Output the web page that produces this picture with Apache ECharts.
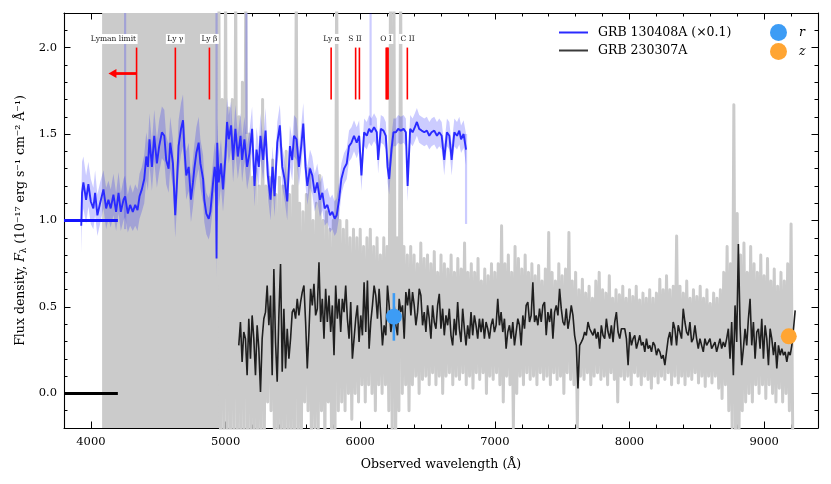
<!DOCTYPE html>
<html><head><meta charset="utf-8">
<script src="https://cdn.jsdelivr.net/npm/echarts@6/dist/echarts.min.js"></script>
<style>html,body{margin:0;padding:0;background:#fff}#c{width:831px;height:484px}</style>
</head><body><div id="c"></div>
<script>
// ---------- axis ranges & ticks ----------
const xMin = 3800, xMax = 9400, yMin = -0.2, yMax = 2.2;
const xMajorTicks = [4000,5000,6000,7000,8000,9000];
const xMinorTicks = [3800,4000,4200,4400,4600,4800,5000,5200,5400,5600,5800,6000,6200,6400,6600,6800,7000,7200,7400,7600,7800,8000,8200,8400,8600,8800,9000,9200,9400];
const yMajorTicks = [0,0.5,1,1.5,2];
const yMinorTicks = [-0.2,-0.1,0,0.1,0.2,0.3,0.4,0.5,0.6,0.7,0.8,0.9,1,1.1,1.2,1.3,1.4,1.5,1.6,1.7,1.8,1.9,2,2.1,2.2];

// ---------- GRB 130408A (x0.1) ----------
const blueWave = [3928,3934,3944,3964,3981,3999,4018,4031,4048,4068,
4093,4113,4130,4147,4167,4187,4205,4222,4242,4254,
4274,4291,4311,4329,4346,4361,4378,4396,4411,4423,
4435,4453,4470,4490,4507,4527,4545,4559,4577,4589,
4609,4626,4639,4651,4669,4684,4693,4708,4726,4743,
4758,4768,4783,4800,4813,4833,4842,4857,4875,4887,
4905,4919,4928,4933,4938,4949,4966,4981,4999,5011,
5024,5041,5056,5073,5091,5111,5123,5140,5160,5178,
5197,5215,5230,5247,5259,5279,5297,5314,5334,5349,
5364,5384,5403,5421,5438,5458,5478,5495,5508,5527,
5545,5562,5577,5594,5607,5627,5644,5662,5681,5701,
5719,5736,5756,5776,5793,5810,5825,5843,5860,5880,
5900,5917,5935,5954,5974,5992,6009,6029,6049,6066,
6083,6103,6123,6133,6153,6173,6190,6203,6215,6232,
6247,6265,6282,6302,6322,6339,6352,6371,6389,6406,
6421,6438,6456,6476,6495,6513,6530,6550,6570,6587,
6605,6624,6644,6662,6679,6699,6719,6736,6749,6768,
6786];
const blueFlux = [0.97,1.16,1.22,1.12,1.21,1.11,1.07,1.16,1.03,1.10,
1.18,1.07,1.12,1.07,1.15,1.05,1.16,1.05,1.12,1.14,
1.04,1.09,1.05,1.09,1.06,1.14,1.18,1.24,1.37,1.31,
1.47,1.31,1.49,1.33,1.43,1.51,1.49,1.35,1.30,1.45,
1.33,1.03,1.22,1.43,1.53,1.58,1.43,1.26,1.31,1.12,
1.22,1.30,1.39,1.45,1.33,1.24,1.12,1.04,1.01,1.05,
1.20,1.31,1.25,0.78,1.45,1.22,1.33,1.18,1.37,1.57,
1.47,1.55,1.35,1.53,1.37,1.49,1.35,1.47,1.31,1.39,
1.53,1.20,1.41,1.31,1.49,1.35,1.52,1.26,1.12,1.31,
1.14,1.45,1.55,1.31,1.24,1.11,1.43,1.35,1.49,1.47,
1.31,1.43,1.56,1.31,1.20,1.30,1.26,1.16,1.22,1.12,
1.16,1.07,1.09,1.03,1.05,1.01,1.03,1.12,1.24,1.30,
1.33,1.43,1.45,1.49,1.45,1.49,1.26,1.51,1.49,1.53,
1.51,1.54,1.51,1.35,1.53,1.52,1.49,1.31,1.24,1.41,
1.51,1.51,1.53,1.52,1.53,1.51,1.20,1.53,1.51,1.54,
1.57,1.53,1.52,1.51,1.52,1.49,1.51,1.52,1.49,1.51,
1.49,1.35,1.51,1.49,1.35,1.51,1.49,1.52,1.47,1.50,
1.41];
const blueErr = [0.16,0.18,0.15,0.14,0.13,0.13,0.12,0.13,0.12,0.12,
0.11,0.12,0.11,0.11,0.12,0.11,0.12,0.11,0.12,0.12,
0.11,0.12,0.11,0.12,0.12,0.13,0.13,0.14,0.14,0.14,
0.15,0.14,0.15,0.14,0.15,0.15,0.15,0.14,0.14,0.15,
0.14,0.13,0.14,0.15,0.15,0.15,0.14,0.14,0.14,0.13,
0.14,0.14,0.15,0.15,0.14,0.14,0.13,0.12,0.12,0.12,
0.13,0.14,0.14,0.12,0.14,0.14,0.14,0.13,0.14,0.14,
0.14,0.14,0.13,0.14,0.13,0.13,0.13,0.13,0.13,0.13,
0.13,0.12,0.13,0.12,0.13,0.12,0.13,0.12,0.12,0.12,
0.12,0.12,0.12,0.12,0.12,0.11,0.12,0.12,0.12,0.12,
0.11,0.12,0.12,0.11,0.11,0.11,0.11,0.11,0.11,0.10,
0.10,0.10,0.10,0.10,0.10,0.10,0.10,0.10,0.09,0.09,
0.09,0.09,0.09,0.09,0.09,0.09,0.09,0.08,0.08,0.08,
0.08,0.08,0.08,0.08,0.08,0.08,0.08,0.09,0.09,0.08,
0.08,0.08,0.08,0.08,0.08,0.08,0.09,0.08,0.08,0.08,
0.08,0.08,0.08,0.08,0.08,0.08,0.08,0.08,0.08,0.08,
0.08,0.09,0.08,0.08,0.09,0.08,0.08,0.08,0.08,0.08,
0.09];
// sky-line residuals in the error band: [wavelength, low, high]
const blueSky = [[4254,0.95,2.2],[4933,1.0,2.2],[5155,1.5,2.2],[6077,1.55,2.2],[6786,0.98,1.5]];
const blueLevel = [[3800,1.0],[4200,1.0]];

// ---------- GRB 230307A ----------
const blackStart = 5098, blackStep = 12.41;
const blackFlux = [0.278,0.413,0.182,0.355,0.317,0.105,0.432,0.201,0.451,0.317,
0.105,0.394,0.259,0.009,0.317,0.432,0.470,0.624,0.394,0.566,
0.105,0.720,0.297,0.067,0.451,0.749,0.125,0.490,0.144,0.374,
0.201,0.317,0.470,0.490,0.432,0.547,0.451,0.528,0.586,0.624,
0.413,0.144,0.355,0.605,0.509,0.634,0.451,0.490,0.758,0.413,
0.547,0.317,0.605,0.413,0.566,0.355,0.509,0.221,0.624,0.432,
0.547,0.355,0.547,0.470,0.624,0.432,0.317,0.528,0.201,0.317,
0.432,0.509,0.297,0.451,0.336,0.643,0.355,0.653,0.259,0.413,
0.509,0.624,0.566,0.432,0.605,0.451,0.278,0.394,0.336,0.624,
0.509,0.355,0.413,0.509,0.394,0.336,0.547,0.470,0.509,0.317,
0.586,0.509,0.605,0.451,0.586,0.509,0.394,0.470,0.605,0.566,
0.394,0.470,0.355,0.509,0.432,0.317,0.509,0.413,0.374,0.509,
0.576,0.374,0.490,0.336,0.451,0.394,0.490,0.336,0.278,0.432,
0.336,0.528,0.374,0.297,0.490,0.374,0.278,0.394,0.317,0.470,
0.336,0.451,0.394,0.317,0.432,0.355,0.432,0.317,0.413,0.374,
0.317,0.394,0.432,0.355,0.394,0.547,0.394,0.470,0.355,0.432,
0.259,0.355,0.394,0.317,
0.413,0.278,0.355,0.432,0.394,0.278,0.451,0.374,0.509,0.528,
0.413,0.451,0.643,0.413,0.451,0.394,0.490,0.413,0.509,0.528,
0.336,0.470,0.413,0.490,0.317,0.470,0.509,0.451,0.605,0.490,
0.413,0.394,0.490,0.374,0.432,0.509,0.451,0.336,0.278,0.029,
0.278,0.297,0.317,0.355,0.336,0.413,0.374,0.355,0.336,0.374,
0.317,0.355,0.259,0.394,0.336,0.317,0.432,0.355,0.317,0.394,
0.297,0.413,0.470,0.355,0.317,0.374,0.384,0.374,0.317,0.163,
0.355,0.278,0.317,0.336,0.259,0.297,0.336,0.278,0.297,0.240,
0.317,0.259,0.278,0.240,0.297,0.278,0.221,0.259,0.240,0.201,
0.221,0.163,0.240,0.317,0.355,0.278,0.413,0.374,0.278,0.394,
0.355,0.317,0.490,0.413,0.355,0.336,0.413,0.297,0.317,0.394,
0.317,0.259,0.317,0.278,0.240,0.317,0.278,0.297,0.317,0.259,
0.278,0.297,0.240,0.278,0.317,0.259,0.297,0.269,0.317,0.374,
0.201,0.413,0.105,0.509,0.297,0.864,0.394,0.163,0.259,0.374,
0.278,0.432,0.547,0.278,0.413,0.201,0.355,0.374,0.259,0.432,
0.201,0.394,0.317,0.163,0.374,0.317,0.221,0.297,0.144,0.278,
0.221,0.259,0.221,0.240,0.182,0.240,0.221,0.278,0.374,0.480];
const blackLevel = [[3800,0.0],[4200,0.0]];

// unbinned spectrum (light grey): per 25 A bin, the high and the low excursion
const grayBlock = [4083, 4955];
const grayStart = 4950, grayStep = 25;
const grayHi = [2.4,1.7,2.4,1.65,1.7,2.4,1.6,1.8,2.4,1.5,
1.25,1.3,1.2,1.7,1.2,1.25,1.35,1.15,1.25,1.2,
1.4,1.15,1.2,2.4,1.1,1.05,1.15,1.3,1.0,1.1,
1.26,1.0,1.05,0.95,1.0,2.4,1.0,0.95,1.0,0.9,
0.95,0.9,0.95,0.85,0.9,0.95,0.85,0.9,0.8,0.9,
0.85,2.4,2.4,0.9,2.4,0.85,0.8,0.85,0.8,0.75,
0.87,0.78,0.8,0.75,0.82,0.7,0.8,0.75,0.72,0.8,
0.7,0.78,0.72,0.87,0.7,0.75,0.7,0.78,0.65,0.72,
0.68,0.75,0.7,0.75,0.97,0.75,0.8,0.7,0.85,0.78,
0.72,0.8,0.7,0.75,0.68,0.74,0.65,0.72,0.93,0.7,
0.65,0.75,0.68,0.72,0.93,0.65,0.7,0.6,0.66,0.58,
0.62,0.55,0.65,0.7,0.6,0.58,0.68,0.55,0.6,0.57,
0.62,0.55,0.6,0.56,0.62,0.54,0.58,0.55,0.6,0.55,
0.58,0.66,0.6,0.68,0.6,0.62,0.91,0.62,0.58,0.65,
0.55,0.6,0.56,0.62,0.55,0.6,0.52,0.58,0.55,0.6,
0.7,0.85,0.75,1.67,1.04,0.8,0.87,0.7,0.85,0.75,
0.7,0.8,0.68,0.78,0.65,0.72,0.62,0.7,0.65,0.75,
0.98];
const grayLo = [-0.3,-0.3,-0.3,-0.3,-0.3,-0.3,-0.3,-0.3,-0.3,-0.3,
-0.3,-0.3,-0.3,-0.3,-0.05,-0.1,-0.3,-0.3,-0.3,-0.3,
-0.3,-0.3,-0.3,-0.3,-0.3,-0.05,-0.1,-0.3,-0.2,-0.3,
-0.1,-0.3,-0.05,-0.3,-0.3,-0.1,-0.05,-0.1,0.0,-0.15,
0.0,-0.05,0.05,-0.05,0.05,0.0,-0.1,0.05,0.0,0.05,
-0.1,-0.3,-0.3,-0.1,0.0,0.05,-0.1,0.05,0.1,0.0,
0.08,0.1,0.05,0.12,0.05,0.1,0.0,0.1,0.12,0.05,
0.1,0.08,0.12,0.05,0.1,0.03,0.12,0.08,0.12,0.0,
0.1,0.08,0.12,0.05,-0.05,0.1,0.05,-0.2,0.0,0.1,
0.05,0.12,0.08,0.1,0.05,0.12,0.08,0.1,0.05,0.12,
0.08,0.1,0.0,0.12,0.08,0.05,-0.2,0.1,0.08,0.12,
0.05,0.1,0.12,0.08,0.1,0.05,0.12,0.08,-0.05,0.1,
0.08,0.1,0.05,0.12,0.1,0.05,0.1,0.08,0.03,0.1,
0.06,0.1,0.08,0.12,0.05,0.1,0.06,0.1,0.05,0.1,
0.08,0.12,0.06,0.1,0.04,0.1,0.06,0.1,0.03,-0.03,
0.05,-0.1,-0.2,-0.3,-0.3,-0.1,-0.05,0.0,-0.05,0.05,
0.0,0.05,-0.03,0.05,0.0,-0.05,0.03,-0.05,0.0,-0.1,
-0.25];

// ---------- line identifications ----------
const redTickWaves = [4339,4627,4880,5784,5966,5994,6193,6200,6207,6350];
const redTickLo = 1.70, redTickHi = 2.00;
const lineLabelText = ['Lyman limit','Ly \u03b3','Ly \u03b2','Ly \u03b1','S II','O I','C II'];
const lineLabelWave = [4339,4627,4880,5786,5962,6192,6352];
const lineLabelY = 2.05;
const arrowFrom = 4339, arrowTo = 4130, arrowY = 1.85;

// ---------- photometry ----------
const rPoint = [6250, 0.444];
const rErr = [6250, 0.305, 0.58];
const zPoint = [9183, 0.33];

// ================= chart =================
const FONT = "'DejaVu Serif', 'Liberation Serif', serif";
const BLUE = '#2a2aff';

const grayData = [];
for (let k = 0; k < grayHi.length; k++) {
  const w = grayStart + k * grayStep;
  grayData.push([w, grayHi[k]]);
  grayData.push([w + grayStep / 2, grayLo[k]]);
}
const blueData = blueWave.map((w, i) => [w, blueFlux[i]]);
const blackData = blackFlux.map((v, i) => [blackStart + i * blackStep, v]);

function axisX(pos, ticks, len, line, labels, extra) {
  return Object.assign({
    type: 'value', min: xMin, max: xMax, position: pos, gridIndex: 0,
    splitLine: { show: false },
    axisLine: { show: line, onZero: false, lineStyle: { color: '#000', width: 1.1 } },
    axisTick: { show: true, inside: true, length: len, customValues: ticks, lineStyle: { color: '#000', width: 1 } },
    axisLabel: labels ? { show: true, customValues: ticks, margin: 8, color: '#000', fontFamily: FONT, fontSize: 11.5, formatter: v => String(v) } : { show: false }
  }, extra || {});
}
function axisY(pos, ticks, len, line, labels, extra) {
  return Object.assign({
    type: 'value', min: yMin, max: yMax, position: pos, gridIndex: 0,
    splitLine: { show: false },
    axisLine: { show: line, onZero: false, lineStyle: { color: '#000', width: 1.1 } },
    axisTick: { show: true, inside: true, length: len, customValues: ticks, lineStyle: { color: '#000', width: 1 } },
    axisLabel: labels ? { show: true, customValues: ticks, margin: 7, color: '#000', fontFamily: FONT, fontSize: 11.5, formatter: v => v.toFixed(1) } : { show: false }
  }, extra || {});
}

const option = {
  animation: false,
  backgroundColor: '#fff',
  grid: { left: 64, right: 13, top: 13, bottom: 56, containLabel: false, outerBoundsMode: 'none' },
  legend: [
    { data: [{ name: 'GRB 130408A (\u00d70.1)', icon: 'rect' }, { name: 'GRB 230307A', icon: 'rect' }],
      left: 554, top: 21, orient: 'vertical',
      itemWidth: 29, itemHeight: 2, itemGap: 5, selectedMode: false,
      textStyle: { fontFamily: FONT, fontSize: 12.5, color: '#000', padding: [0, 0, 0, 5] } },
    { data: ['r', 'z'], left: 765, top: 19, orient: 'vertical', icon: 'circle',
      itemWidth: 17, itemHeight: 17, itemGap: 2, selectedMode: false,
      textStyle: { fontFamily: FONT, fontSize: 12.5, fontStyle: 'italic', color: '#000', padding: [0, 0, 0, 7] } }
  ],
  xAxis: [
    axisX('bottom', xMajorTicks, 6.5, true, true, {
      name: 'Observed wavelength (\u00c5)', nameLocation: 'middle', nameGap: 30,
      nameTextStyle: { fontFamily: FONT, fontSize: 12.5, color: '#000' } }),
    axisX('bottom', xMinorTicks, 3.5, false, false),
    axisX('top', xMajorTicks, 6.5, true, false),
    axisX('top', xMinorTicks, 3.5, false, false)
  ],
  yAxis: [
    axisY('left', yMajorTicks, 6.5, true, true, {
      name: 'Flux density, {it|F}{sub|\u03bb} (10\u207b\u00b9\u2077 erg s\u207b\u00b9 cm\u207b\u00b2 \u00c5\u207b\u00b9)',
      nameLocation: 'middle', nameGap: 33, nameRotate: 90,
      nameTextStyle: { fontFamily: FONT, fontSize: 12.5, color: '#000',
        rich: { it: { fontFamily: FONT, fontSize: 12.5, fontStyle: 'italic', color: '#000' },
                sub: { fontFamily: FONT, fontSize: 8.5, color: '#000', verticalAlign: 'bottom', padding: [5, 0, 0, 0] } } } }),
    axisY('left', yMinorTicks, 3.5, false, false),
    axisY('right', yMajorTicks, 6.5, true, false),
    axisY('right', yMinorTicks, 3.5, false, false)
  ],
  series: [
    { type: 'line', name: 'unbinned', data: grayData, symbol: 'none', silent: true, z: 1,
      lineStyle: { color: '#cbcbcb', width: 3, join: 'round' }, itemStyle: { color: '#cbcbcb' },
      markArea: { silent: true, itemStyle: { color: '#cbcbcb' },
        data: [[{ xAxis: grayBlock[0] }, { xAxis: grayBlock[1] }]] } },
    { type: 'custom', name: 'blueBand', silent: true, z: 2, data: [[blueWave[0], blueFlux[0]]],
      renderItem: function (params, api) {
        const pts = [];
        for (let i = 0; i < blueWave.length; i++) pts.push(api.coord([blueWave[i], blueFlux[i] + blueErr[i]]));
        for (let i = blueWave.length - 1; i >= 0; i--) pts.push(api.coord([blueWave[i], blueFlux[i] - blueErr[i]]));
        return { type: 'polygon', shape: { points: pts }, style: { fill: 'rgba(0,0,255,0.2)' } };
      } },
    { type: 'custom', name: 'blueSky', silent: true, z: 2, data: blueSky,
      renderItem: function (params, api) {
        const hi = api.coord([api.value(0), api.value(2)]);
        const lo = api.coord([api.value(0), api.value(1)]);
        return { type: 'rect', shape: { x: hi[0] - 1.1, y: hi[1], width: 2.2, height: lo[1] - hi[1] },
          style: { fill: 'rgba(0,0,255,0.2)' } };
      } },
    { type: 'line', name: 'GRB 130408A (\u00d70.1)', data: blueData, symbol: 'none', z: 3,
      lineStyle: { color: BLUE, width: 1.9 }, itemStyle: { color: BLUE } },
    { type: 'line', name: 'GRB 230307A', data: blackData, symbol: 'none', z: 4,
      lineStyle: { color: '#1f1f1f', width: 1.6 }, itemStyle: { color: '#3a3a3a' } },
    { type: 'line', name: 'blueLevel', data: blueLevel, symbol: 'none', z: 4, silent: true,
      lineStyle: { color: '#1414ff', width: 3 } },
    { type: 'line', name: 'blackLevel', data: blackLevel, symbol: 'none', z: 4, silent: true,
      lineStyle: { color: '#000', width: 3 } },
    { type: 'custom', name: 'redTicks', silent: true, z: 5, data: redTickWaves.map(w => [w, redTickLo, redTickHi]),
      renderItem: function (params, api) {
        const a = api.coord([api.value(0), api.value(1)]);
        const b = api.coord([api.value(0), api.value(2)]);
        return { type: 'line', shape: { x1: a[0], y1: a[1], x2: b[0], y2: b[1] }, style: { stroke: '#ff0000', lineWidth: 1.6 } };
      } },
    { type: 'custom', name: 'arrow', silent: true, z: 5, data: [[arrowFrom, arrowY, arrowTo]],
      renderItem: function (params, api) {
        const a = api.coord([api.value(0), api.value(1)]);
        const b = api.coord([api.value(2), api.value(1)]);
        const head = 8, half = 4.5;
        return { type: 'group', children: [
          { type: 'line', shape: { x1: a[0], y1: a[1], x2: b[0] + head - 1, y2: b[1] }, style: { stroke: '#ff0000', lineWidth: 2.8 } },
          { type: 'polygon', shape: { points: [[b[0], b[1]], [b[0] + head, b[1] - half], [b[0] + head, b[1] + half]] }, style: { fill: '#ff0000' } }
        ] };
      } },
    { type: 'custom', name: 'lineLabels', silent: true, z: 6, data: lineLabelWave.map(w => [w, lineLabelY]),
      renderItem: function (params, api) {
        const i = params.dataIndex;
        const p = api.coord([api.value(0), api.value(1)]);
        const right = i === 0;
        return { type: 'text', x: p[0] + (right ? 1 : 0), y: p[1], z2: 10,
          style: { text: lineLabelText[i], fontFamily: FONT, fontSize: 7.5, fill: '#222',
            align: right ? 'right' : 'center', verticalAlign: 'middle', backgroundColor: '#fff', padding: [1, 1.5] } };
      } },
    { type: 'custom', name: 'rErr', silent: true, z: 7, data: [rErr],
      renderItem: function (params, api) {
        const a = api.coord([api.value(0), api.value(1)]);
        const b = api.coord([api.value(0), api.value(2)]);
        return { type: 'line', shape: { x1: a[0], y1: a[1], x2: b[0], y2: b[1] }, style: { stroke: '#3d9cf5', lineWidth: 2.6 } };
      } },
    { type: 'scatter', name: 'r', data: [rPoint], symbol: 'circle', symbolSize: 16, z: 8,
      itemStyle: { color: '#3d9cf5', opacity: 1 } },
    { type: 'scatter', name: 'z', data: [zPoint], symbol: 'circle', symbolSize: 16, z: 8,
      itemStyle: { color: '#ffa533', opacity: 1 } }
  ]
};

const chart = echarts.init(document.getElementById('c'), null, { renderer: 'canvas' });
chart.setOption(option);
</script></body></html>
